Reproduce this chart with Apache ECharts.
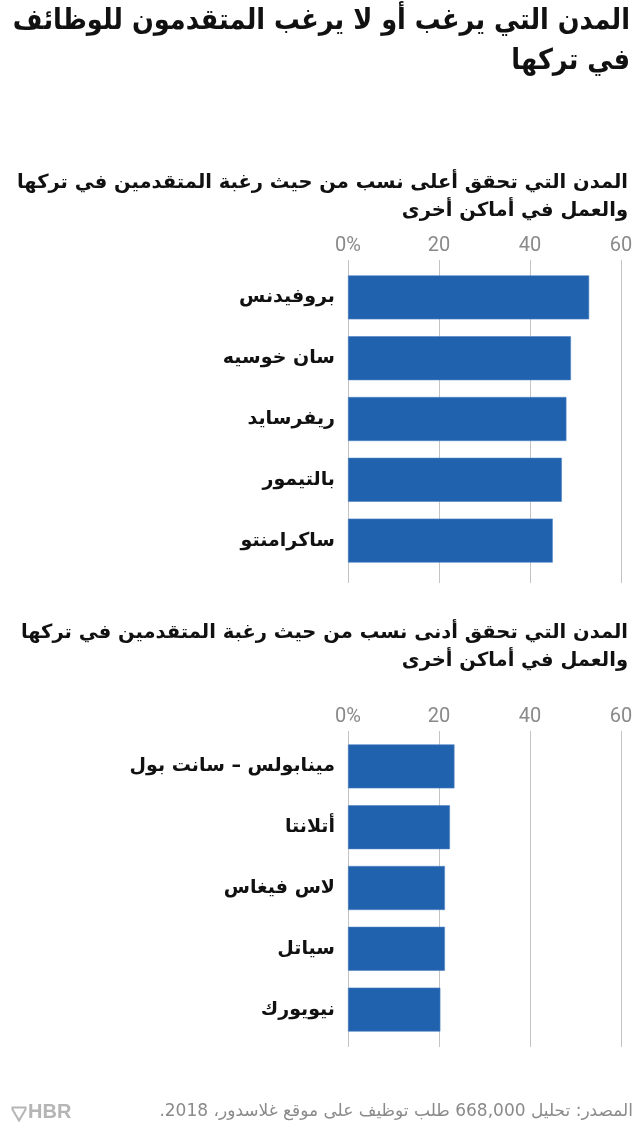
<!DOCTYPE html>
<html dir="rtl">
<head>
<meta charset="utf-8">
<script src="https://cdn.jsdelivr.net/npm/echarts@6/dist/echarts.min.js"></script>
<style>
html,body{margin:0;padding:0;background:#fff;}
#c{width:641px;height:1130px;direction:rtl;}
</style>
</head>
<body>
<div id="c"></div>
<script>
const titleText = "المدن التي يرغب أو لا يرغب المتقدمون للوظائف\nفي تركها";
const subtitleTop = "المدن التي تحقق أعلى نسب من حيث رغبة المتقدمين في تركها\nوالعمل في أماكن أخرى";
const subtitleBottom = "المدن التي تحقق أدنى نسب من حيث رغبة المتقدمين في تركها\nوالعمل في أماكن أخرى";
const sourceText = "المصدر: تحليل 668,000 طلب توظيف على موقع غلاسدور، 2018.";

const topCities = ["بروفيدنس", "سان خوسيه", "ريفرسايد", "بالتيمور", "ساكرامنتو"];
const topValues = [53, 49, 48, 47, 45];
const bottomCities = ["مينابولس – سانت بول", "أتلانتا", "لاس فيغاس", "سياتل", "نيويورك"];
const bottomValues = [23.4, 22.4, 21.3, 21.3, 20.3];
const tickValues = [0, 20, 40, 60];

const AR = "'DejaVu Sans', 'Noto Sans', sans-serif";
const ARC = "'DejaVu Sans Condensed', 'DejaVu Sans', sans-serif";
const BLUE = "#2162af";

const chart = echarts.init(document.getElementById('c'), null, {renderer: 'canvas'});

function gridAxis(gridIndex, show) {
  return {
    type: 'value', gridIndex: gridIndex, position: 'top',
    min: tickValues[0], max: tickValues[tickValues.length - 1], interval: tickValues[1] - tickValues[0],
    axisLine: {show: false}, axisTick: {show: false},
    axisLabel: show ? {
      show: true, margin: 4, fontSize: 20, color: '#8a8a8a', fontFamily: 'Roboto, sans-serif',
      formatter: v => v === 0 ? '0%' : String(v)
    } : {show: false},
    splitLine: {show: show, lineStyle: {color: '#c4c4c4', width: 1}}
  };
}

function rtext(text, x, y, size, weight, color, lh, family) {
  return {type: 'text', x: x, y: y, silent: true,
    style: {text: text, textAlign: 'right', textVerticalAlign: 'top', fill: color,
      font: weight + ' ' + size + 'px ' + (family || AR), lineHeight: lh}};
}

const option = {
  backgroundColor: '#fff',
  animation: false,
  grid: [
    {left: 348, right: 20, top: 260, height: 323},
    {left: 348, right: 20, top: 267, height: 304},
    {left: 348, right: 20, top: 731, height: 316},
    {left: 348, right: 20, top: 736, height: 304}
  ],
  xAxis: [
    gridAxis(0, true),
    gridAxis(1, false),
    gridAxis(2, true),
    gridAxis(3, false)
  ],
  yAxis: [
    {type: 'category', gridIndex: 0, data: topCities, show: false},
    {type: 'category', gridIndex: 1, data: topCities, inverse: true,
     axisLine: {show: false}, axisTick: {show: false},
     axisLabel: {margin: 13, fontSize: 19, fontWeight: 'bold', color: '#111', fontFamily: AR}},
    {type: 'category', gridIndex: 2, data: bottomCities, show: false},
    {type: 'category', gridIndex: 3, data: bottomCities, inverse: true,
     axisLine: {show: false}, axisTick: {show: false},
     axisLabel: {margin: 13, fontSize: 19, fontWeight: 'bold', color: '#111', fontFamily: AR}}
  ],
  series: [
    {type: 'bar', xAxisIndex: 1, yAxisIndex: 1, data: topValues, barWidth: 44,
     itemStyle: {color: BLUE, borderColor: '#4f83c3', borderWidth: 0.6}},
    {type: 'bar', xAxisIndex: 3, yAxisIndex: 3, data: bottomValues, barWidth: 44,
     itemStyle: {color: BLUE, borderColor: '#4f83c3', borderWidth: 0.6}}
  ],
  graphic: [
    rtext(titleText, 630, 2, 28.5, 'bold', '#111', 40, ARC),
    rtext(subtitleTop, 628, 169, 19.5, 'bold', '#111', 28),
    rtext(subtitleBottom, 628, 619, 19.5, 'bold', '#111', 28),
    rtext(sourceText, 633, 1102, 17, 'normal', '#8a8a8a', 20),
    {type: 'text', x: 28, y: 1102, silent: true,
     style: {text: 'HBR', textAlign: 'left', textVerticalAlign: 'top', fill: '#b5b5b5',
       font: "bold 20px 'Liberation Sans', Arial, sans-serif"}},
    {type: 'polygon', left: 10, top: 1105,
     shape: {points: [[0,0],[13,0],[13,2],[6.5,13],[0,2]]},
     style: {fill: 'none', stroke: '#b5b5b5', lineWidth: 2}}
  ]
};
chart.setOption(option);
</script>
</body>
</html>
